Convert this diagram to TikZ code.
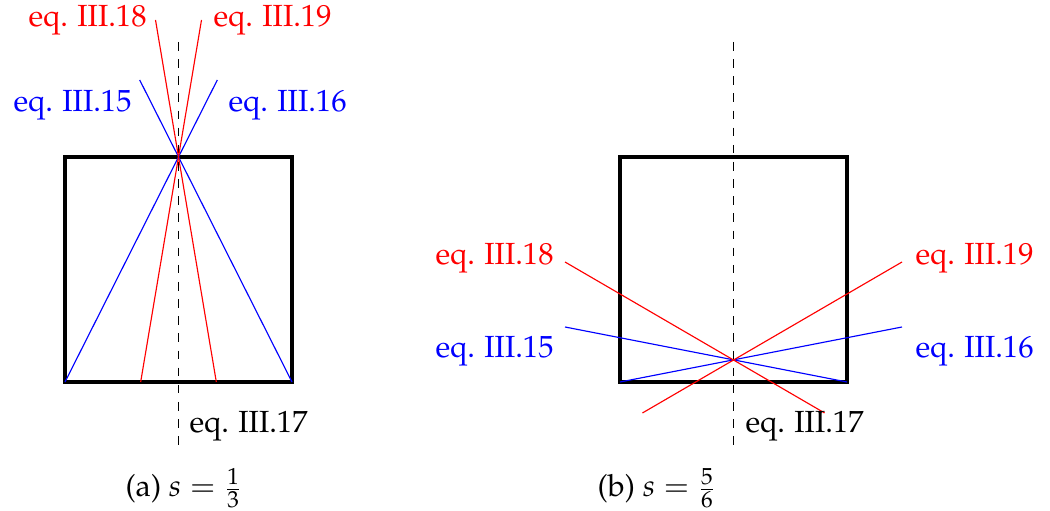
\documentclass[tikz,border=0pt]{standalone}
\usepackage[T1]{fontenc}
\usepackage{mathpazo}
\usetikzlibrary{calc}
\tikzset{
  sq/.style={draw=black, line width=1.1pt},
  axisline/.style={draw=black, dashed, line width=0.4pt},
  bl/.style={draw=blue, line width=0.4pt},
  rd/.style={draw=red, line width=0.4pt},
  lab/.style={anchor=base west, inner sep=0pt, font=\fontsize{10.7}{13}\selectfont},
  captext/.style={anchor=base, inner sep=0pt, font=\fontsize{10.7}{13}\selectfont},
}
\begin{document}
\begin{tikzpicture}[x=0.35pt, y=-0.35pt]
\useasboundingbox (0,0) rectangle (1050,511);

% ---------- left panel (a) ----------
\coordinate (aP) at (178.5,157);
\coordinate (aB0) at (65,382);
\coordinate (aB1) at (140.67,382);
\coordinate (aB2) at (216.33,382);
\coordinate (aB3) at (292,382);
\coordinate (aDt) at (178.5,42);
\coordinate (aDb) at (178.5,450);
\coordinate (aE15) at (139.7,80);
\coordinate (aE16) at (217.3,80);
\coordinate (aE18) at (155.5,20);
\coordinate (aE19) at (201.5,20);

\draw[sq] (65,157) rectangle (292,382);
\draw[axisline] (aDt) -- (aDb);
\draw[bl] (aB0) -- (aE16);
\draw[bl] (aB3) -- (aE15);
\draw[rd] (aB1) -- (aE19);
\draw[rd] (aB2) -- (aE18);

\node[lab, text=red]  (a18) at (28,27)   {eq. III.18};
\node[lab, text=red]  (a19) at (213,27)  {eq. III.19};
\node[lab, text=blue] (a15) at (13,112)  {eq. III.15};
\node[lab, text=blue] (a16) at (228,112) {eq. III.16};
\node[lab]            (a17) at (189,433) {eq. III.17};
\node[captext]        (acap) at (184,497) {(a) $s=\frac{1}{3}$};

% ---------- right panel (b) ----------
\coordinate (bQ) at (733.5,360);
\coordinate (bB0) at (620,382);
\coordinate (bB3) at (847,382);
\coordinate (bDt) at (733.5,42);
\coordinate (bDb) at (733.5,450);
\coordinate (bE15) at (565,327);
\coordinate (bE16) at (902,327);
\coordinate (bE18a) at (565,262);
\coordinate (bE18b) at (824.6,413);
\coordinate (bE19a) at (902,262);
\coordinate (bE19b) at (642.4,413);

\draw[sq] (620,157) rectangle (847,382);
\draw[axisline] (bDt) -- (bDb);
\draw[bl] (bB3) -- (bE15);
\draw[bl] (bB0) -- (bE16);
\draw[rd] (bE18a) -- (bE18b);
\draw[rd] (bE19a) -- (bE19b);

\node[lab, text=red]  (b18) at (435,265) {eq. III.18};
\node[lab, text=red]  (b19) at (915,265) {eq. III.19};
\node[lab, text=blue] (b15) at (435,358) {eq. III.15};
\node[lab, text=blue] (b16) at (915,358) {eq. III.16};
\node[lab]            (b17) at (745,433) {eq. III.17};
\node[captext]        (bcap) at (657,497) {(b) $s=\frac{5}{6}$};
\end{tikzpicture}
\end{document}
